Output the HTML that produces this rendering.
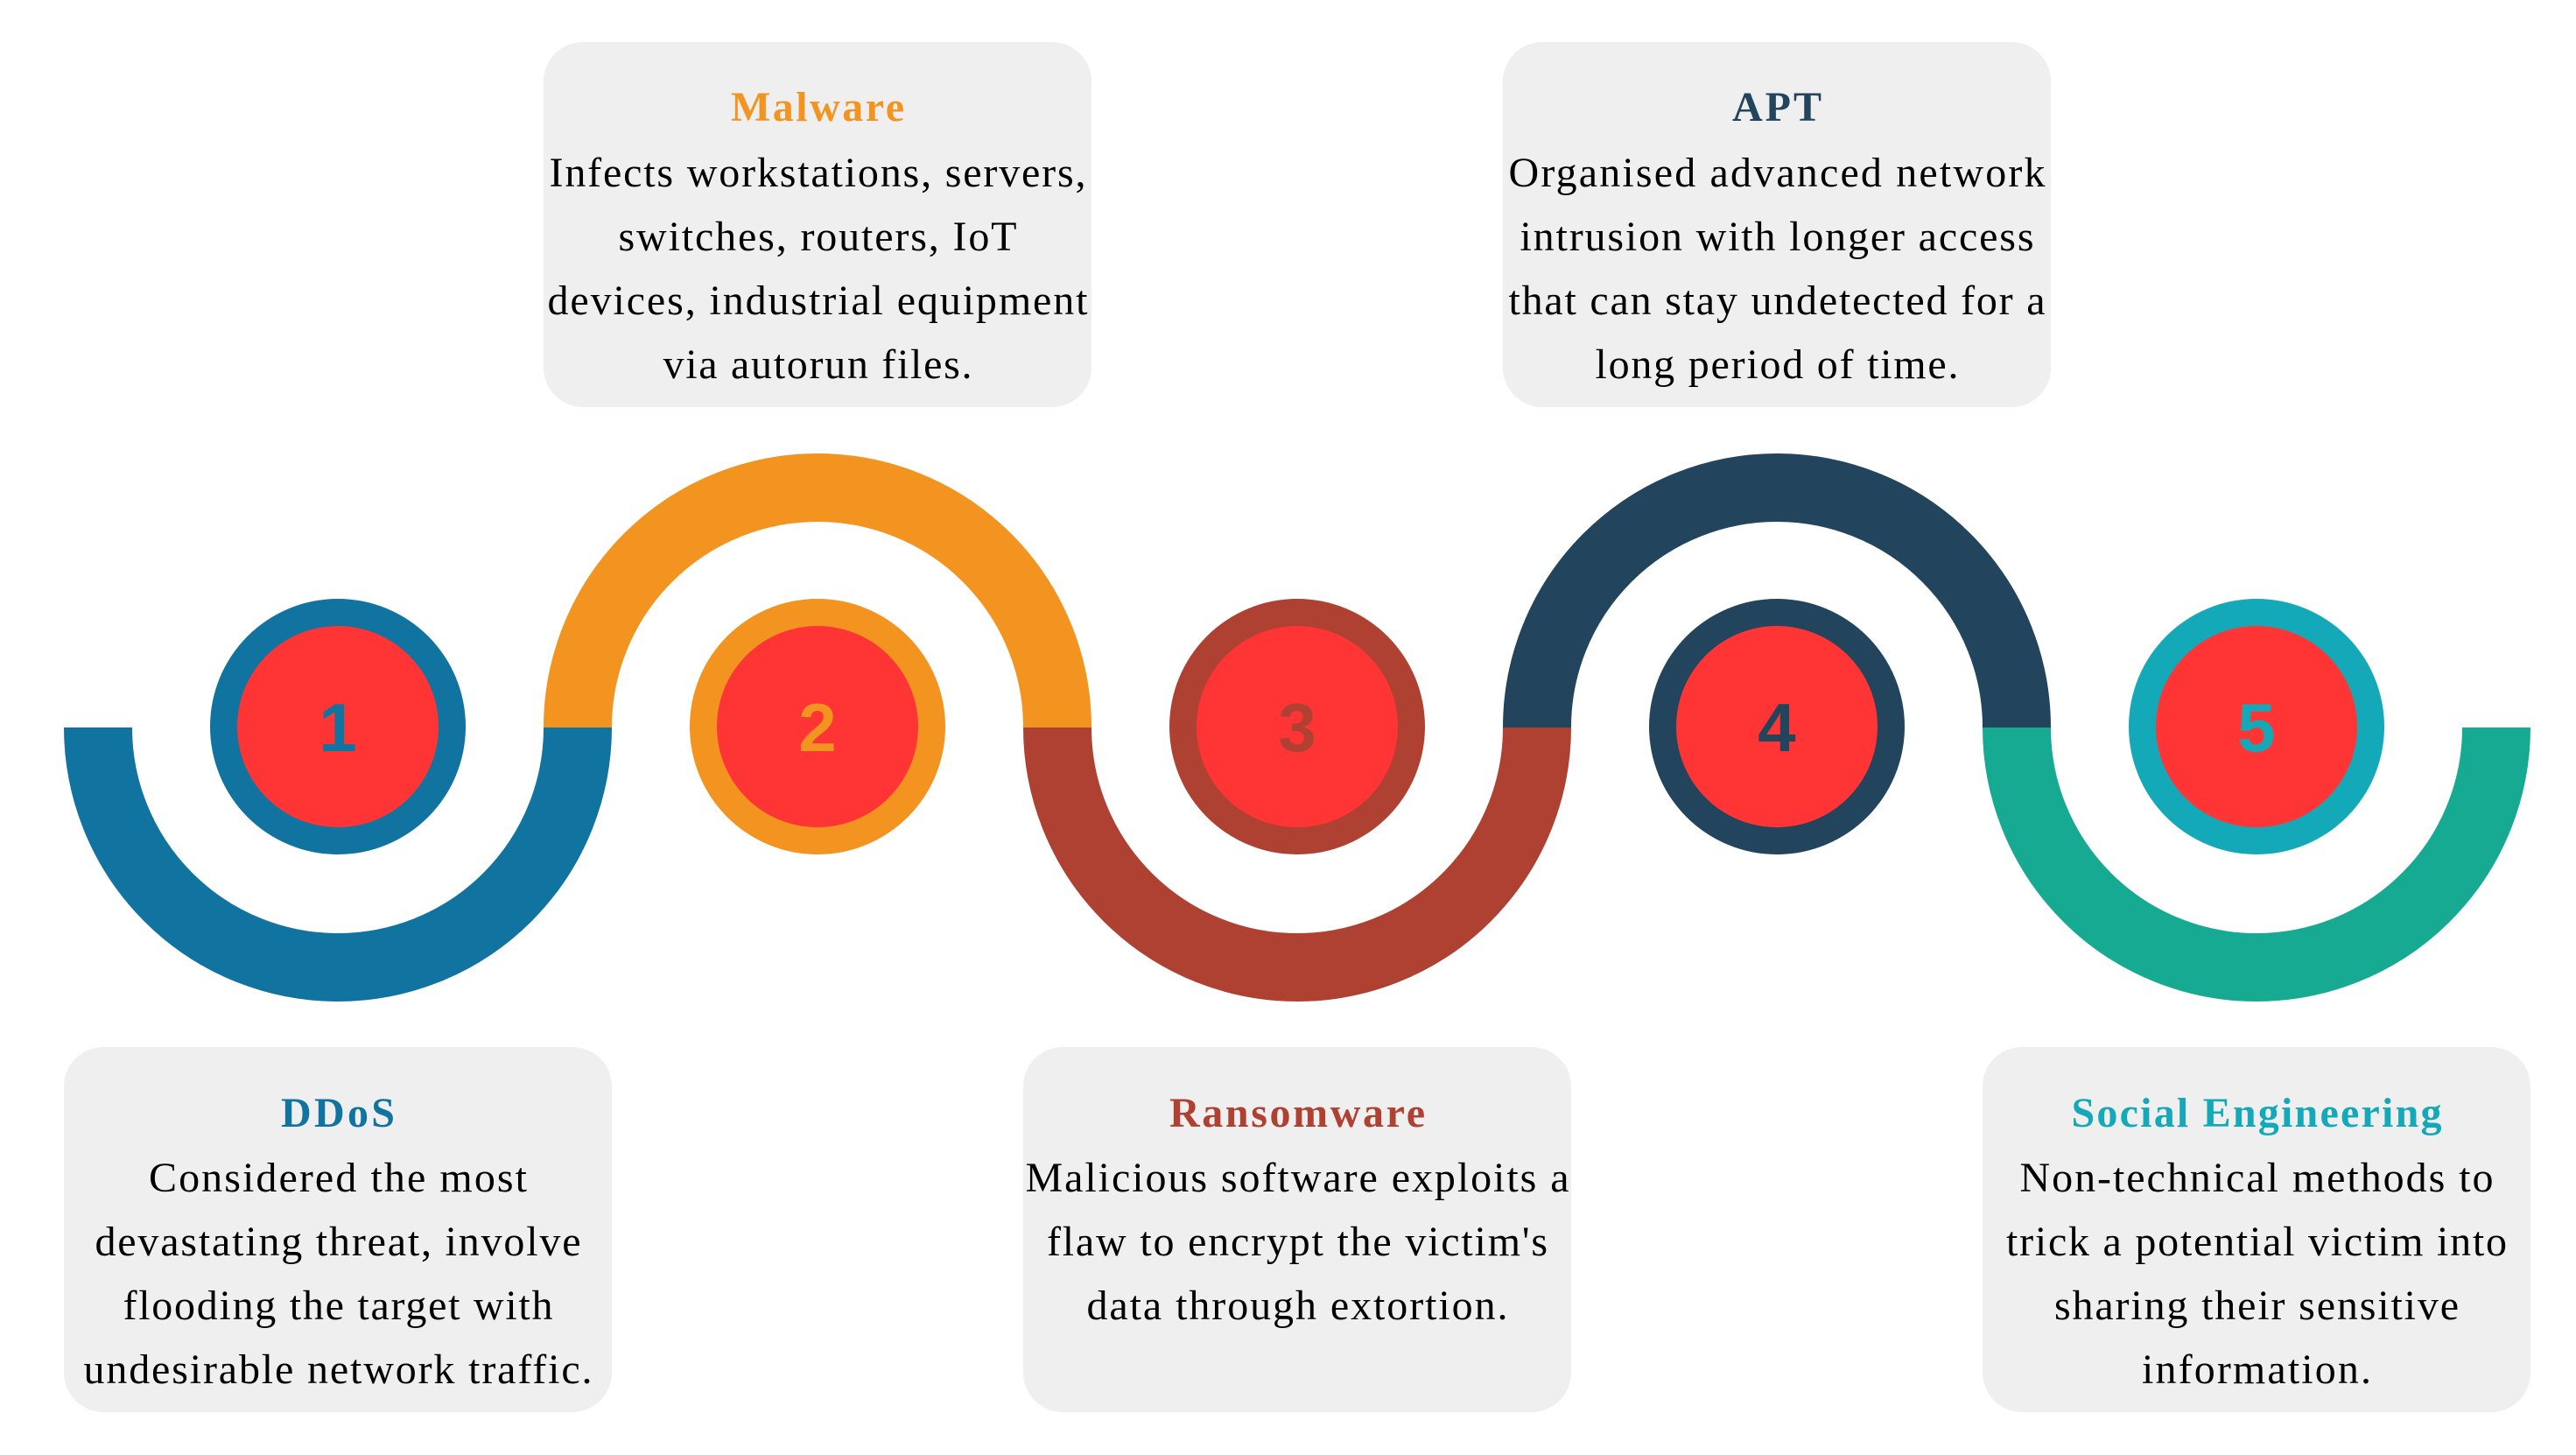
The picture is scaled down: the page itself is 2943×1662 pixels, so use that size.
<!DOCTYPE html>
<html><head><meta charset="utf-8"><style>
html,body{margin:0;padding:0;background:#fff;}
svg{display:block;}
.t{font-family:"Liberation Serif",serif;font-size:48px;text-anchor:middle;}
.h{font-weight:bold;}
.n{font-family:"Liberation Sans",sans-serif;font-weight:bold;font-size:78px;text-anchor:middle;}
</style></head><body>
<svg width="2943" height="1662" viewBox="0 0 2943 1662" xmlns="http://www.w3.org/2000/svg">
<g fill="none" stroke-width="78">
<path d="M112 831 A274 274 0 0 0 660 831" stroke="#11739f"/>
<path d="M660 831 A274 274 0 0 1 1208 831" stroke="#f2941f"/>
<path d="M1208 831 A274 274 0 0 0 1756 831" stroke="#af4133"/>
<path d="M1756 831 A274 274 0 0 1 2304 831" stroke="#22445d"/>
<path d="M2304 831 A274 274 0 0 0 2852 831" stroke="#17aa93"/>
</g>
<g>
<circle cx="386" cy="830" r="146" fill="#11739f"/><circle cx="386" cy="830" r="115" fill="#ff3535"/>
<text class="n" x="386" y="858" fill="#11739f">1</text>
<circle cx="934" cy="830" r="146" fill="#f2941f"/><circle cx="934" cy="830" r="115" fill="#ff3535"/>
<text class="n" x="934" y="858" fill="#f2941f">2</text>
<circle cx="1482" cy="830" r="146" fill="#af4133"/><circle cx="1482" cy="830" r="115" fill="#ff3535"/>
<text class="n" x="1482" y="858" fill="#af4133">3</text>
<circle cx="2030" cy="830" r="146" fill="#22445d"/><circle cx="2030" cy="830" r="115" fill="#ff3535"/>
<text class="n" x="2030" y="858" fill="#22445d">4</text>
<circle cx="2578" cy="830" r="146" fill="#14a9b8"/><circle cx="2578" cy="830" r="115" fill="#ff3535"/>
<text class="n" x="2578" y="858" fill="#14a9b8">5</text>
</g>
<g fill="#efefef">
<rect x="621" y="48" width="626" height="417" rx="45"/>
<rect x="1717" y="48" width="626" height="417" rx="45"/>
<rect x="73" y="1196" width="626" height="417" rx="45"/>
<rect x="1169" y="1196" width="626" height="417" rx="45"/>
<rect x="2265" y="1196" width="626" height="417" rx="45"/>
</g>
<g>
<text class="t h" x="934" y="138" fill="#f2941f" textLength="198" lengthAdjust="spacing">Malware</text>
<text class="t" x="934" y="213" textLength="613" lengthAdjust="spacing">Infects workstations, servers,</text>
<text class="t" x="934" y="286" textLength="455" lengthAdjust="spacing">switches, routers, IoT</text>
<text class="t" x="934" y="359" textLength="617" lengthAdjust="spacing">devices, industrial equipment</text>
<text class="t" x="934" y="432" textLength="353" lengthAdjust="spacing">via autorun files.</text>

<text class="t h" x="2030" y="138" fill="#22445d" textLength="102" lengthAdjust="spacing">APT</text>
<text class="t" x="2030" y="213" textLength="613" lengthAdjust="spacing">Organised advanced network</text>
<text class="t" x="2030" y="286" textLength="587" lengthAdjust="spacing">intrusion with longer access</text>
<text class="t" x="2030" y="359" textLength="613" lengthAdjust="spacing">that can stay undetected for a</text>
<text class="t" x="2030" y="432" textLength="415" lengthAdjust="spacing">long period of time.</text>

<text class="t h" x="386" y="1287" fill="#11739f" textLength="130" lengthAdjust="spacing">DDoS</text>
<text class="t" x="386" y="1361" textLength="432" lengthAdjust="spacing">Considered the most</text>
<text class="t" x="386" y="1434" textLength="555" lengthAdjust="spacing">devastating threat, involve</text>
<text class="t" x="386" y="1507" textLength="491" lengthAdjust="spacing">flooding the target with</text>
<text class="t" x="386" y="1580" textLength="581" lengthAdjust="spacing">undesirable network traffic.</text>

<text class="t h" x="1482" y="1287" fill="#af4133" textLength="292" lengthAdjust="spacing">Ransomware</text>
<text class="t" x="1482" y="1361" textLength="621" lengthAdjust="spacing">Malicious software exploits a</text>
<text class="t" x="1482" y="1434" textLength="572" lengthAdjust="spacing">flaw to encrypt the victim's</text>
<text class="t" x="1482" y="1507" textLength="481" lengthAdjust="spacing">data through extortion.</text>

<text class="t h" x="2578" y="1287" fill="#14a9b8" textLength="423" lengthAdjust="spacing">Social Engineering</text>
<text class="t" x="2578" y="1361" textLength="541" lengthAdjust="spacing">Non-technical methods to</text>
<text class="t" x="2578" y="1434" textLength="572" lengthAdjust="spacing">trick a potential victim into</text>
<text class="t" x="2578" y="1507" textLength="462" lengthAdjust="spacing">sharing their sensitive</text>
<text class="t" x="2578" y="1580" textLength="262" lengthAdjust="spacing">information.</text>
</g>
</svg>
</body></html>
